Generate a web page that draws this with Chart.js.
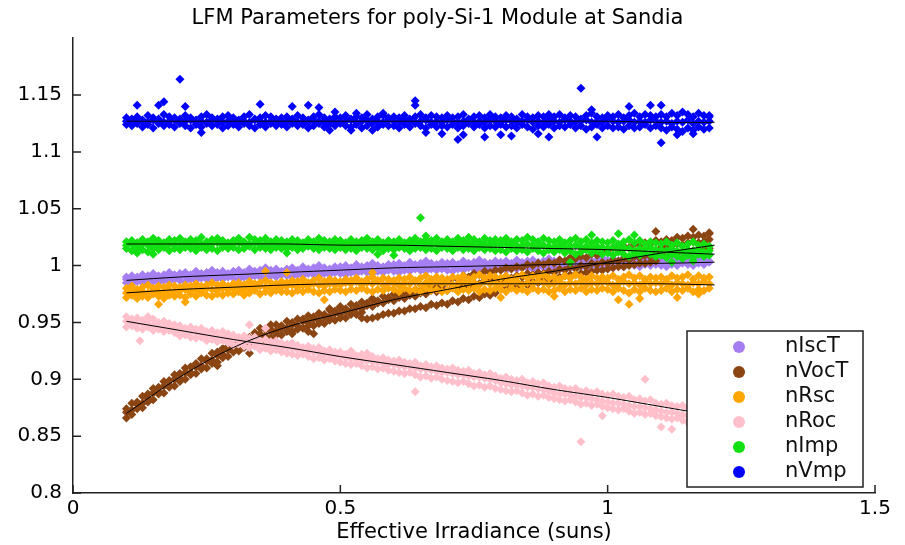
<!DOCTYPE html>
<html lang="en">
<head>
<meta charset="UTF-8">
<title>LFM Parameters for poly-Si-1 Module at Sandia</title>
<script src="https://cdn.jsdelivr.net/npm/chart.js"></script>
<style>
  html, body { margin: 0; padding: 0; background: #fff; }
  #wrap { width: 905px; height: 545px; }
</style>
</head>
<body>
<div id="wrap"><canvas id="lfmChart" width="905" height="545"></canvas></div>
<script>
// effective irradiance (suns) for the sampled rows of every series
const irradiance = [
  0.10,0.11,0.12,0.13,0.14,0.15,0.16,0.17,0.18,0.19,
  0.20,0.21,0.22,0.23,0.24,0.25,0.26,0.27,0.28,0.29,
  0.30,0.31,0.32,0.33,0.34,0.35,0.36,0.37,0.38,0.39,
  0.40,0.41,0.42,0.43,0.44,0.45,0.46,0.47,0.48,0.49,
  0.50,0.51,0.52,0.53,0.54,0.55,0.56,0.57,0.58,0.59,
  0.60,0.61,0.62,0.63,0.64,0.65,0.66,0.67,0.68,0.69,
  0.70,0.71,0.72,0.73,0.74,0.75,0.76,0.77,0.78,0.79,
  0.80,0.81,0.82,0.83,0.84,0.85,0.86,0.87,0.88,0.89,
  0.90,0.91,0.92,0.93,0.94,0.95,0.96,0.97,0.98,0.99,
  1.00,1.01,1.02,1.03,1.04,1.05,1.06,1.07,1.08,1.09,
  1.10,1.11,1.12,1.13,1.14,1.15,1.16,1.17,1.18,1.19
];

// nIscT: upper edge, middle and lower edge of the band, then stray points
const nIscTHi = [
  0.990,0.991,0.990,0.992,0.991,0.993,0.991,0.992,0.994,0.992,
  0.993,0.994,0.992,0.995,0.993,0.994,0.996,0.994,0.995,0.993,
  0.995,0.996,0.994,0.997,0.995,0.996,0.998,0.996,0.997,0.995,
  0.997,0.998,0.996,0.999,0.997,0.998,1.000,0.998,0.997,0.999,
  0.999,1.000,0.998,1.001,0.999,1.000,1.002,1.000,0.999,1.001,
  1.001,1.002,1.000,1.003,1.001,1.002,1.004,1.002,1.001,1.003,
  1.002,1.003,1.001,1.004,1.002,1.003,1.005,1.003,1.002,1.004,
  1.003,1.004,1.002,1.005,1.003,1.004,1.005,1.003,1.004,1.006,
  1.004,1.005,1.003,1.006,1.004,1.005,1.006,1.004,1.005,1.007,
  1.005,1.006,1.004,1.007,1.005,1.006,1.007,1.005,1.006,1.008,
  1.006,1.007,1.005,1.008,1.006,1.009,1.007,1.006,1.008,1.010
];
const nIscTMid = [
  0.988,0.987,0.989,0.988,0.989,0.990,0.988,0.989,0.990,0.989,
  0.990,0.991,0.989,0.991,0.990,0.992,0.991,0.990,0.992,0.991,
  0.992,0.993,0.991,0.993,0.992,0.994,0.993,0.992,0.994,0.993,
  0.994,0.995,0.993,0.995,0.994,0.996,0.995,0.994,0.996,0.995,
  0.996,0.997,0.995,0.997,0.996,0.998,0.997,0.996,0.998,0.997,
  0.998,0.999,0.997,0.999,0.998,1.000,0.999,0.998,1.000,0.999,
  0.999,1.000,0.998,1.000,0.999,1.001,1.000,0.999,1.001,1.000,
  1.000,1.001,0.999,1.001,1.000,1.002,1.001,1.000,1.002,1.001,
  1.001,1.002,1.000,1.002,1.001,1.003,1.002,1.001,1.003,1.002,
  1.002,1.003,1.001,1.003,1.002,1.004,1.003,1.002,1.004,1.003,
  1.003,1.004,1.002,1.004,1.003,1.005,1.004,1.003,1.005,1.004
];
const nIscTLo = [
  0.985,0.984,0.986,0.985,0.987,0.986,0.985,0.987,0.986,0.988,
  0.987,0.986,0.988,0.987,0.989,0.988,0.987,0.989,0.988,0.990,
  0.989,0.988,0.990,0.989,0.991,0.990,0.989,0.991,0.990,0.992,
  0.991,0.990,0.992,0.991,0.993,0.992,0.991,0.993,0.992,0.994,
  0.993,0.992,0.994,0.993,0.995,0.994,0.993,0.995,0.994,0.996,
  0.995,0.994,0.996,0.995,0.997,0.996,0.995,0.997,0.996,0.997,
  0.996,0.995,0.997,0.996,0.998,0.997,0.996,0.998,0.997,0.998,
  0.997,0.996,0.998,0.997,0.999,0.998,0.997,0.999,0.998,0.999,
  0.998,0.997,0.999,0.998,1.000,0.999,0.998,1.000,0.999,1.000,
  0.999,0.998,1.000,0.999,1.001,1.000,0.999,1.001,1.000,1.001,
  1.000,0.999,1.001,1.000,1.002,1.001,1.000,1.002,1.001,1.003
];
const nIscTStray = [];

// nVocT
const nVocTHi = [
  0.874,0.879,0.880,0.885,0.887,0.892,0.893,0.898,0.899,0.904,
  0.905,0.910,0.911,0.914,0.918,0.918,0.923,0.924,0.927,0.929,
  0.933,0.933,0.937,0.937,0.941,0.940,0.944,0.944,0.948,0.947,
  0.951,0.950,0.953,0.953,0.956,0.955,0.958,0.957,0.961,0.960,
  0.963,0.962,0.966,0.965,0.968,0.967,0.970,0.969,0.973,0.972,
  0.975,0.974,0.977,0.976,0.979,0.978,0.981,0.980,0.983,0.982,
  0.986,0.989,0.988,0.991,0.990,0.993,0.992,0.995,0.994,0.996,
  0.996,0.998,0.997,0.999,0.998,1.001,1.000,1.002,1.001,1.003,
  1.002,1.005,1.004,1.007,1.006,1.008,1.007,1.010,1.009,1.011,
  1.013,1.016,1.015,1.017,1.016,1.019,1.018,1.020,1.019,1.022,
  1.021,1.023,1.022,1.025,1.024,1.026,1.025,1.027,1.026,1.029
];
const nVocTMid = [
  0.871,0.873,0.878,0.879,0.883,0.888,0.889,0.894,0.895,0.900,
  0.901,0.906,0.906,0.911,0.912,0.916,0.917,0.921,0.922,0.926,
  0.927,0.931,0.931,0.935,0.935,0.938,0.938,0.942,0.942,0.945,
  0.945,0.948,0.947,0.951,0.950,0.953,0.952,0.955,0.955,0.958,
  0.957,0.960,0.960,0.963,0.962,0.965,0.964,0.967,0.967,0.970,
  0.969,0.972,0.971,0.974,0.973,0.976,0.975,0.978,0.977,0.979,
  0.978,0.981,0.980,0.983,0.982,0.985,0.984,0.987,0.986,0.988,
  0.987,0.990,0.989,0.991,0.990,0.993,0.992,0.994,0.993,0.995,
  0.994,0.997,0.996,0.999,0.997,1.000,0.999,1.002,1.001,1.003,
  1.002,1.005,1.004,1.006,1.005,1.008,1.007,1.009,1.008,1.011,
  1.016,1.017,1.018,1.019,1.018,1.020,1.021,1.020,1.021,1.023
];
const nVocTLo = [
  0.866,0.869,0.874,0.875,0.880,0.882,0.887,0.888,0.893,0.894,
  0.898,0.900,0.904,0.905,0.909,0.910,0.914,0.915,0.919,0.920,
  0.924,0.925,0.928,0.929,0.932,0.932,0.935,0.936,0.939,0.939,
  0.942,0.942,0.944,0.945,0.947,0.947,0.949,0.949,0.952,0.952,
  0.954,0.954,0.957,0.957,0.959,0.953,0.954,0.955,0.957,0.958,
  0.958,0.960,0.960,0.962,0.962,0.964,0.963,0.966,0.965,0.967,
  0.966,0.969,0.968,0.971,0.970,0.973,0.972,0.975,0.974,0.976,
  0.980,0.979,0.982,0.981,0.984,0.983,0.986,0.985,0.987,0.986,
  0.989,0.990,0.991,0.992,0.992,0.993,0.994,0.995,0.996,0.996,
  0.997,0.998,0.999,0.999,1.000,1.001,1.002,1.002,1.003,1.004,
  1.009,1.010,1.010,1.011,1.012,1.012,1.013,1.014,1.014,1.015
];
const nVocTStray = [
  [0.27,0.912],[0.33,0.923],[0.35,0.945],[0.37,0.948],[0.41,0.940],[0.44,0.942],
  [0.45,0.940],[0.48,0.962],[0.50,0.964],[0.54,0.954],[0.56,0.971],[0.61,0.983],
  [1.09,1.030],[1.16,1.032],[1.19,1.028]
];

// nRsc
const nRscHi = [
  0.980,0.982,0.979,0.981,0.983,0.980,0.982,0.981,0.983,0.982,
  0.981,0.983,0.982,0.984,0.982,0.983,0.985,0.983,0.984,0.982,
  0.984,0.985,0.983,0.986,0.984,0.985,0.987,0.985,0.984,0.986,
  0.985,0.987,0.986,0.988,0.985,0.987,0.989,0.986,0.988,0.987,
  0.986,0.988,0.987,0.989,0.986,0.988,0.990,0.987,0.989,0.988,
  0.987,0.989,0.988,0.990,0.987,0.989,0.991,0.988,0.990,0.989,
  0.988,0.990,0.989,0.991,0.988,0.990,0.992,0.989,0.991,0.990,
  0.989,0.991,0.988,0.990,0.992,0.989,0.991,0.990,0.992,0.989,
  0.990,0.988,0.991,0.989,0.992,0.990,0.988,0.991,0.989,0.990,
  0.989,0.991,0.988,0.990,0.992,0.989,0.991,0.988,0.990,0.989,
  0.990,0.988,0.991,0.989,0.990,0.992,0.988,0.991,0.989,0.990
];
const nRscMid = [
  0.976,0.977,0.975,0.977,0.976,0.978,0.977,0.976,0.978,0.977,
  0.978,0.979,0.977,0.979,0.978,0.980,0.979,0.978,0.980,0.979,
  0.980,0.981,0.979,0.981,0.980,0.982,0.981,0.980,0.982,0.981,
  0.982,0.983,0.981,0.983,0.982,0.984,0.983,0.982,0.984,0.983,
  0.983,0.985,0.984,0.986,0.983,0.985,0.984,0.986,0.983,0.985,
  0.984,0.983,0.985,0.984,0.986,0.983,0.985,0.984,0.986,0.984,
  0.985,0.983,0.984,0.986,0.984,0.985,0.983,0.986,0.984,0.985,
  0.983,0.985,0.984,0.986,0.983,0.985,0.984,0.986,0.985,0.983,
  0.984,0.986,0.983,0.985,0.984,0.986,0.983,0.985,0.984,0.986,
  0.985,0.983,0.984,0.986,0.984,0.985,0.983,0.986,0.984,0.985,
  0.984,0.986,0.983,0.985,0.984,0.983,0.985,0.984,0.986,0.984
];
const nRscLo = [
  0.972,0.974,0.971,0.973,0.972,0.975,0.973,0.971,0.974,0.973,
  0.974,0.972,0.975,0.973,0.976,0.974,0.973,0.975,0.974,0.976,
  0.975,0.977,0.974,0.976,0.978,0.975,0.977,0.976,0.978,0.977,
  0.977,0.976,0.978,0.977,0.979,0.977,0.976,0.978,0.977,0.979,
  0.978,0.977,0.979,0.978,0.980,0.978,0.977,0.979,0.978,0.980,
  0.979,0.977,0.980,0.978,0.979,0.977,0.980,0.978,0.979,0.977,
  0.978,0.980,0.977,0.979,0.978,0.980,0.977,0.979,0.978,0.980,
  0.979,0.977,0.980,0.978,0.979,0.977,0.980,0.978,0.979,0.977,
  0.978,0.980,0.977,0.979,0.978,0.980,0.977,0.979,0.978,0.980,
  0.979,0.977,0.980,0.978,0.976,0.979,0.977,0.980,0.978,0.977,
  0.978,0.980,0.977,0.979,0.978,0.980,0.977,0.979,0.978,0.980
];
const nRscStray = [
  [0.16,0.966],[0.21,0.968],[0.36,0.995],[0.40,0.994],[0.47,0.970],[0.56,0.994],
  [0.80,0.972],[0.90,0.973],[1.02,0.970],[1.04,0.966],[1.06,0.971],[1.13,0.972],[1.17,0.975]
];

// nRoc
const nRocHi = [
  0.955,0.953,0.954,0.952,0.951,0.953,0.950,0.951,0.949,0.948,
  0.947,0.945,0.946,0.944,0.945,0.942,0.943,0.941,0.942,0.940,
  0.939,0.937,0.938,0.936,0.937,0.934,0.935,0.933,0.934,0.932,
  0.931,0.932,0.930,0.928,0.929,0.927,0.928,0.925,0.926,0.924,
  0.924,0.922,0.923,0.921,0.922,0.919,0.920,0.918,0.919,0.917,
  0.916,0.917,0.915,0.914,0.915,0.912,0.913,0.911,0.912,0.910,
  0.909,0.910,0.908,0.907,0.908,0.905,0.906,0.904,0.905,0.903,
  0.901,0.902,0.900,0.899,0.900,0.897,0.898,0.896,0.897,0.894,
  0.893,0.894,0.892,0.891,0.892,0.889,0.890,0.888,0.889,0.887,
  0.886,0.887,0.885,0.884,0.885,0.882,0.883,0.881,0.882,0.879,
  0.878,0.879,0.877,0.876,0.877,0.874,0.875,0.873,0.874,0.871
];
const nRocMid = [
  0.951,0.950,0.949,0.949,0.948,0.947,0.946,0.946,0.945,0.944,
  0.943,0.942,0.941,0.941,0.940,0.939,0.938,0.938,0.937,0.936,
  0.935,0.934,0.933,0.933,0.932,0.931,0.930,0.930,0.929,0.928,
  0.928,0.927,0.926,0.925,0.925,0.924,0.923,0.922,0.922,0.921,
  0.920,0.919,0.918,0.918,0.917,0.916,0.916,0.915,0.914,0.913,
  0.913,0.912,0.911,0.911,0.910,0.909,0.909,0.908,0.907,0.906,
  0.906,0.905,0.904,0.904,0.903,0.902,0.902,0.901,0.900,0.899,
  0.897,0.896,0.895,0.895,0.894,0.893,0.893,0.892,0.891,0.890,
  0.888,0.887,0.887,0.886,0.885,0.884,0.884,0.883,0.882,0.881,
  0.880,0.879,0.879,0.878,0.877,0.876,0.876,0.875,0.874,0.873,
  0.872,0.871,0.871,0.870,0.869,0.868,0.868,0.867,0.866,0.865
];
const nRocLo = [
  0.946,0.947,0.945,0.944,0.946,0.943,0.944,0.942,0.943,0.941,
  0.938,0.939,0.937,0.936,0.937,0.934,0.935,0.933,0.934,0.932,
  0.930,0.931,0.929,0.928,0.929,0.926,0.927,0.925,0.926,0.924,
  0.923,0.922,0.921,0.922,0.920,0.918,0.919,0.917,0.918,0.916,
  0.915,0.914,0.913,0.914,0.912,0.910,0.911,0.909,0.910,0.908,
  0.907,0.906,0.905,0.906,0.904,0.902,0.903,0.901,0.902,0.900,
  0.899,0.898,0.897,0.898,0.896,0.894,0.895,0.893,0.894,0.892,
  0.891,0.890,0.889,0.890,0.888,0.886,0.887,0.885,0.886,0.884,
  0.883,0.882,0.881,0.882,0.880,0.878,0.879,0.877,0.878,0.876,
  0.875,0.874,0.873,0.874,0.872,0.870,0.871,0.869,0.870,0.868,
  0.867,0.866,0.865,0.866,0.864,0.862,0.863,0.861,0.862,0.860
];
const nRocStray = [
  [0.125,0.934],[0.14,0.955],[0.33,0.948],[0.36,0.945],[0.52,0.925],[0.55,0.923],
  [0.58,0.910],[0.62,0.905],[0.64,0.889],[0.95,0.845],[0.99,0.868],[1.07,0.900],
  [1.10,0.858],[1.12,0.856]
];

// nImp
const nImpHi = [
  1.021,1.022,1.020,1.023,1.021,1.024,1.022,1.020,1.023,1.022,
  1.024,1.021,1.023,1.022,1.025,1.021,1.023,1.024,1.022,1.020,
  1.022,1.024,1.021,1.025,1.023,1.022,1.024,1.021,1.023,1.022,
  1.021,1.023,1.022,1.020,1.023,1.021,1.024,1.022,1.021,1.023,
  1.022,1.020,1.023,1.021,1.022,1.024,1.021,1.023,1.020,1.022,
  1.021,1.023,1.020,1.022,1.024,1.021,1.023,1.022,1.024,1.021,
  1.023,1.021,1.024,1.022,1.025,1.023,1.021,1.024,1.022,1.023,
  1.022,1.024,1.021,1.023,1.022,1.025,1.023,1.021,1.024,1.022,
  1.021,1.023,1.020,1.022,1.024,1.021,1.023,1.020,1.022,1.021,
  1.020,1.022,1.019,1.021,1.023,1.020,1.022,1.019,1.021,1.020,
  1.019,1.021,1.018,1.020,1.017,1.019,1.021,1.018,1.019,1.017
];
const nImpMid = [
  1.018,1.019,1.017,1.019,1.018,1.020,1.018,1.017,1.019,1.018,
  1.019,1.018,1.020,1.018,1.019,1.017,1.019,1.020,1.018,1.019,
  1.019,1.020,1.018,1.019,1.020,1.018,1.019,1.017,1.019,1.018,
  1.018,1.019,1.017,1.019,1.020,1.018,1.019,1.018,1.017,1.019,
  1.019,1.017,1.019,1.018,1.019,1.020,1.018,1.019,1.017,1.018,
  1.018,1.019,1.017,1.018,1.020,1.018,1.019,1.018,1.019,1.017,
  1.019,1.017,1.019,1.018,1.020,1.018,1.017,1.019,1.018,1.019,
  1.018,1.019,1.017,1.018,1.017,1.019,1.018,1.016,1.018,1.017,
  1.016,1.018,1.015,1.017,1.018,1.016,1.017,1.015,1.017,1.016,
  1.015,1.016,1.014,1.016,1.015,1.013,1.015,1.014,1.016,1.014,
  1.014,1.013,1.015,1.013,1.012,1.014,1.013,1.014,1.012,1.013
];
const nImpLo = [
  1.015,1.013,1.016,1.014,1.012,1.015,1.014,1.016,1.013,1.015,
  1.014,1.016,1.015,1.013,1.016,1.014,1.015,1.013,1.016,1.015,
  1.016,1.014,1.015,1.017,1.014,1.016,1.015,1.014,1.016,1.015,
  1.015,1.016,1.014,1.015,1.017,1.015,1.014,1.016,1.015,1.014,
  1.016,1.014,1.015,1.013,1.016,1.015,1.014,1.016,1.013,1.015,
  1.014,1.016,1.015,1.013,1.015,1.016,1.014,1.015,1.013,1.016,
  1.015,1.013,1.016,1.014,1.015,1.013,1.016,1.014,1.015,1.013,
  1.014,1.012,1.015,1.013,1.014,1.012,1.015,1.013,1.011,1.014,
  1.012,1.014,1.011,1.013,1.010,1.012,1.014,1.011,1.013,1.010,
  1.011,1.009,1.012,1.010,1.008,1.011,1.009,1.012,1.010,1.008,
  1.009,1.007,1.010,1.008,1.006,1.009,1.007,1.010,1.008,1.009
];
const nImpStray = [
  [0.12,1.011],[0.15,1.010],[0.40,1.011],[0.57,1.010],[0.60,1.009],[0.65,1.042],
  [0.66,1.026],[0.93,1.003],[0.97,1.027],[1.02,1.028],[1.05,1.027],[1.12,1.003],[1.16,1.004]
];

// nVmp
const nVmpHi = [
  1.130,1.129,1.131,1.128,1.132,1.130,1.129,1.133,1.131,1.130,
  1.129,1.132,1.130,1.128,1.131,1.133,1.130,1.129,1.131,1.132,
  1.130,1.128,1.131,1.133,1.129,1.130,1.132,1.131,1.129,1.130,
  1.131,1.129,1.132,1.130,1.128,1.131,1.133,1.130,1.129,1.131,
  1.130,1.132,1.129,1.131,1.130,1.133,1.129,1.131,1.132,1.130,
  1.131,1.130,1.132,1.129,1.131,1.133,1.130,1.132,1.131,1.130,
  1.132,1.130,1.131,1.133,1.129,1.131,1.132,1.130,1.133,1.131,
  1.130,1.132,1.131,1.129,1.133,1.131,1.130,1.132,1.131,1.133,
  1.131,1.133,1.130,1.132,1.131,1.129,1.132,1.134,1.131,1.130,
  1.132,1.131,1.133,1.130,1.132,1.134,1.131,1.133,1.132,1.131,
  1.133,1.131,1.134,1.132,1.135,1.133,1.131,1.134,1.132,1.131
];
const nVmpMid = [
  1.127,1.126,1.128,1.127,1.126,1.128,1.127,1.126,1.127,1.128,
  1.126,1.127,1.128,1.126,1.127,1.126,1.128,1.127,1.126,1.127,
  1.128,1.126,1.127,1.126,1.128,1.127,1.126,1.127,1.128,1.126,
  1.127,1.128,1.126,1.127,1.126,1.128,1.127,1.126,1.128,1.127,
  1.126,1.127,1.128,1.126,1.127,1.128,1.126,1.127,1.126,1.128,
  1.127,1.126,1.128,1.127,1.126,1.127,1.128,1.126,1.127,1.126,
  1.128,1.127,1.126,1.127,1.128,1.126,1.127,1.126,1.128,1.127,
  1.126,1.128,1.127,1.126,1.127,1.128,1.126,1.127,1.126,1.128,
  1.127,1.126,1.128,1.127,1.126,1.127,1.128,1.126,1.127,1.126,
  1.128,1.127,1.126,1.127,1.128,1.126,1.127,1.126,1.128,1.127,
  1.126,1.127,1.125,1.127,1.126,1.128,1.125,1.127,1.126,1.127
];
const nVmpLo = [
  1.124,1.123,1.125,1.122,1.124,1.121,1.125,1.123,1.124,1.122,
  1.125,1.123,1.121,1.124,1.122,1.125,1.123,1.124,1.121,1.123,
  1.124,1.122,1.125,1.123,1.121,1.124,1.122,1.125,1.123,1.124,
  1.122,1.125,1.123,1.124,1.121,1.123,1.125,1.122,1.124,1.123,
  1.125,1.123,1.122,1.124,1.121,1.123,1.125,1.122,1.124,1.123,
  1.123,1.121,1.124,1.122,1.125,1.123,1.121,1.124,1.122,1.123,
  1.122,1.124,1.121,1.123,1.125,1.122,1.124,1.121,1.123,1.122,
  1.124,1.122,1.123,1.121,1.124,1.122,1.120,1.123,1.122,1.124,
  1.121,1.123,1.122,1.124,1.121,1.123,1.120,1.122,1.124,1.121,
  1.123,1.121,1.122,1.120,1.123,1.121,1.122,1.124,1.121,1.123,
  1.121,1.119,1.122,1.120,1.118,1.121,1.119,1.122,1.120,1.121
];
const nVmpStray = [
  [0.12,1.141],[0.16,1.141],[0.17,1.144],[0.20,1.164],[0.21,1.140],[0.24,1.117],
  [0.35,1.142],[0.41,1.140],[0.44,1.141],[0.46,1.139],[0.48,1.119],[0.49,1.135],
  [0.52,1.119],[0.53,1.134],[0.56,1.119],[0.58,1.134],[0.64,1.145],[0.64,1.141],
  [0.66,1.117],[0.69,1.116],[0.72,1.111],[0.73,1.115],[0.77,1.113],[0.80,1.115],
  [0.82,1.114],[0.87,1.116],[0.89,1.113],[0.95,1.156],[0.97,1.137],[0.98,1.113],
  [1.04,1.140],[1.08,1.141],[1.10,1.141],[1.10,1.108],[1.13,1.115],[1.16,1.116],[1.19,1.132]
];

// fitted curves (black lines)
const fitIrradiance = [0.10,0.20,0.30,0.40,0.50,0.60,0.70,0.80,0.90,1.00,1.10,1.20];
const nIscTFit = [0.987,0.990,0.992,0.994,0.996,0.998,0.999,1.000,1.001,1.002,1.002,1.003];
const nVocTFit = [0.870,0.902,0.928,0.946,0.958,0.970,0.979,0.988,0.995,1.003,1.011,1.018];
const nRscFit  = [0.976,0.979,0.981,0.983,0.984,0.984,0.984,0.984,0.984,0.984,0.984,0.983];
const nRocFit  = [0.951,0.943,0.935,0.928,0.920,0.913,0.906,0.899,0.891,0.884,0.876,0.868];
const nImpFit  = [1.019,1.019,1.019,1.019,1.018,1.018,1.017,1.016,1.015,1.014,1.012,1.010];
const nVmpFit  = [1.127,1.127,1.127,1.127,1.127,1.127,1.127,1.127,1.127,1.127,1.126,1.126];

const xTicks = [0, 0.5, 1, 1.5];
const yTickLabels = ['0.8','0.85','0.9','0.95','1','1.05','1.1','1.15'];

function points(rows, stray) {
  let out = [];
  rows.forEach(row => {
    out = out.concat(irradiance.map((x, i) => ({ x, y: row[i] })));
  });
  return out.concat(stray.map(p => ({ x: p[0], y: p[1] })));
}

function series(label, color, order, rows, stray) {
  return {
    label, order,
    data: points(rows, stray),
    backgroundColor: color,
    borderColor: color,
    pointStyle: 'rectRot',
    pointRadius: 4.5,
    pointBorderWidth: 0
  };
}

function fitLine(ys) {
  return {
    isFit: true,
    order: 0,
    data: fitIrradiance.map((x, i) => ({ x, y: ys[i] })),
    showLine: true,
    borderColor: '#000',
    borderWidth: 1,
    pointRadius: 0,
    tension: 0.35
  };
}

Chart.defaults.font.family = '"DejaVu Sans", sans-serif';
Chart.defaults.color = '#000';

// MATLAB style ticks pointing into the plot
const inwardTicks = {
  id: 'inwardTicks',
  afterDatasetsDraw(chart) {
    const { ctx, chartArea, scales } = chart;
    ctx.save();
    ctx.strokeStyle = '#222';
    ctx.lineWidth = 1.5;
    ctx.beginPath();
    scales.x.ticks.forEach(t => {
      const px = scales.x.getPixelForValue(t.value);
      ctx.moveTo(px, chartArea.bottom);
      ctx.lineTo(px, chartArea.bottom - 8);
    });
    scales.y.ticks.forEach(t => {
      if (t.value > 1.19) return;
      const py = scales.y.getPixelForValue(t.value);
      ctx.moveTo(chartArea.left, py);
      ctx.lineTo(chartArea.left + 8, py);
    });
    ctx.stroke();
    ctx.restore();
  }
};

// boxed legend in the lower right corner, drawn over the data
const legendBox = {
  id: 'legendBox',
  afterDraw(chart) {
    const { ctx, chartArea } = chart;
    const items = chart.data.datasets.filter(d => !d.isFit);
    const w = 176, h = 156;
    const left = chartArea.right - 12 - w;
    const top = chartArea.bottom - 6 - h;
    ctx.save();
    ctx.fillStyle = '#fff';
    ctx.fillRect(left, top, w, h);
    ctx.strokeStyle = '#222';
    ctx.lineWidth = 1.5;
    ctx.strokeRect(left, top, w, h);
    ctx.font = '21px "DejaVu Sans"';
    ctx.textBaseline = 'middle';
    items.forEach((d, i) => {
      const y = top + 16 + i * 25;
      ctx.fillStyle = d.backgroundColor;
      ctx.beginPath();
      ctx.arc(left + 52, y, 6, 0, Math.PI * 2);
      ctx.fill();
      ctx.fillStyle = '#111';
      ctx.fillText(d.label, left + 98, y);
    });
    ctx.restore();
  }
};

new Chart(document.getElementById('lfmChart'), {
  type: 'scatter',
  data: {
    datasets: [
      series('nIscT', '#a57ff2', 6, [nIscTHi, nIscTMid, nIscTLo], nIscTStray),
      series('nVocT', '#8b4513', 5, [nVocTHi, nVocTMid, nVocTLo], nVocTStray),
      series('nRsc', '#ffa500', 4, [nRscHi, nRscMid, nRscLo], nRscStray),
      series('nRoc', '#ffc0cb', 3, [nRocHi, nRocMid, nRocLo], nRocStray),
      series('nImp', '#12e012', 2, [nImpHi, nImpMid, nImpLo], nImpStray),
      series('nVmp', '#0000ff', 1, [nVmpHi, nVmpMid, nVmpLo], nVmpStray),
      fitLine(nIscTFit), fitLine(nVocTFit), fitLine(nRscFit),
      fitLine(nRocFit), fitLine(nImpFit), fitLine(nVmpFit)
    ]
  },
  options: {
    responsive: false,
    animation: false,
    events: [],
    layout: { padding: { left: 0, right: 30, top: 0, bottom: 0 } },
    plugins: {
      legend: { display: false },
      tooltip: { enabled: false },
      title: {
        display: true,
        text: 'LFM Parameters for poly-Si-1 Module at Sandia',
        font: { size: 21, weight: 'normal' },
        color: '#000',
        padding: { top: 6, bottom: 7 }
      }
    },
    scales: {
      x: {
        type: 'linear',
        min: 0, max: 1.5,
        afterBuildTicks: s => { s.ticks = xTicks.map(v => ({ value: v })); },
        afterFit: s => { s.height = 52; },
        ticks: { font: { size: 20 }, padding: 4, color: '#000', callback: v => String(v) },
        grid: { drawOnChartArea: false, drawTicks: false },
        border: { display: true, color: '#222', width: 1.5 },
        title: {
          display: true,
          text: 'Effective Irradiance (suns)',
          font: { size: 21 },
          color: '#000',
          padding: { top: 0, bottom: 0 }
        }
      },
      y: {
        type: 'linear',
        min: 0.8, max: 1.2,
        ticks: {
          stepSize: 0.05,
          font: { size: 20 },
          padding: 11,
          color: '#000',
          callback: (v, i) => yTickLabels[i] !== undefined ? yTickLabels[i] : ''
        },
        afterFit: s => { s.width = 73; },
        grid: { drawOnChartArea: false, drawTicks: false },
        border: { display: true, color: '#222', width: 1.5 }
      }
    }
  },
  plugins: [inwardTicks, legendBox]
});
</script>
</body>
</html>
